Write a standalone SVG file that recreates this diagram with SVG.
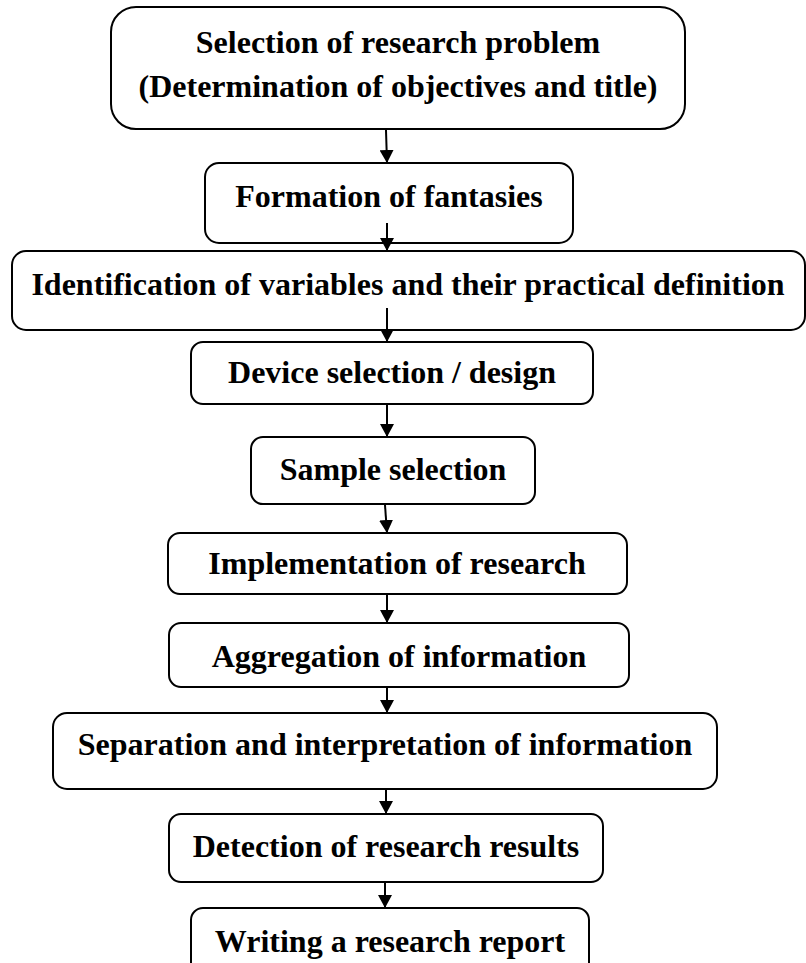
<svg xmlns="http://www.w3.org/2000/svg" width="806" height="963" viewBox="0 0 806 963">
<style>
.box{fill:#fff;stroke:#000;stroke-width:2}
.t{font-family:"Liberation Serif","Times New Roman",serif;font-weight:bold;font-size:32px;text-anchor:middle;fill:#000}
.c{stroke:#000;stroke-width:2;fill:none}
</style>
<defs>
<marker id="ah" markerUnits="userSpaceOnUse" markerWidth="16" markerHeight="14" refX="13" refY="7" orient="auto">
<path d="M0,0 L13,7 L0,14 Z" fill="#000"/>
</marker>
</defs>
<rect width="806" height="963" fill="#fff"/>
<g id="n1"><rect class="box" x="111" y="7" width="574" height="122" rx="25"/><text class="t" x="398" y="53">Selection of research problem</text><text class="t" x="398" y="97">(Determination of objectives and title)</text></g>
<g id="n2"><rect class="box" x="205" y="163" width="368" height="80" rx="14"/><text class="t" x="389" y="207">Formation of fantasies</text></g>
<g id="n3"><rect class="box" x="12" y="251" width="793" height="79" rx="14"/><text class="t" x="408" y="295">Identification of variables and their practical definition</text></g>
<g id="n4"><rect class="box" x="191" y="342" width="402" height="62" rx="12"/><text class="t" x="392" y="383">Device selection / design</text></g>
<g id="n5"><rect class="box" x="251" y="437" width="284" height="67" rx="12"/><text class="t" x="393" y="480">Sample selection</text></g>
<g id="n6"><rect class="box" x="168" y="533" width="459" height="61" rx="12"/><text class="t" x="397" y="574">Implementation of research</text></g>
<g id="n7"><rect class="box" x="169" y="623" width="460" height="64" rx="12"/><text class="t" x="399" y="667">Aggregation of information</text></g>
<g id="n8"><rect class="box" x="53" y="713" width="664" height="76" rx="14"/><text class="t" x="385" y="755">Separation and interpretation of information</text></g>
<g id="n9"><rect class="box" x="169" y="814" width="434" height="68" rx="12"/><text class="t" x="386" y="857">Detection of research results</text></g>
<g id="n10"><rect class="box" x="191" y="908" width="398" height="80" rx="12"/><text class="t" x="390" y="952">Writing a research report</text></g>
<g id="connectors">
<line class="c" x1="386" y1="130" x2="387" y2="163" marker-end="url(#ah)"/>
<line class="c" x1="387" y1="223" x2="387" y2="251" marker-end="url(#ah)"/>
<line class="c" x1="387" y1="308" x2="387" y2="342" marker-end="url(#ah)"/>
<line class="c" x1="387" y1="405" x2="387" y2="437" marker-end="url(#ah)"/>
<line class="c" x1="385" y1="505" x2="387" y2="533" marker-end="url(#ah)"/>
<line class="c" x1="387" y1="595" x2="387" y2="623" marker-end="url(#ah)"/>
<line class="c" x1="387" y1="688" x2="387" y2="713" marker-end="url(#ah)"/>
<line class="c" x1="386" y1="790" x2="386" y2="814" marker-end="url(#ah)"/>
<line class="c" x1="385" y1="883" x2="385" y2="908" marker-end="url(#ah)"/>
</g>
</svg>
